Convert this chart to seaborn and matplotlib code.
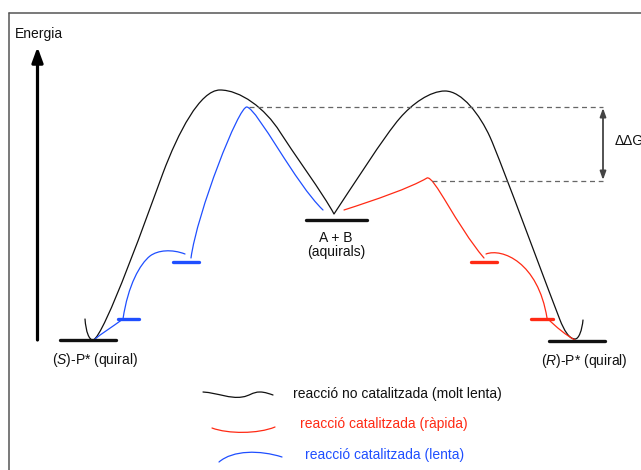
import numpy as np
import pandas as pd
import matplotlib
matplotlib.use("Agg")
import matplotlib.pyplot as plt
from matplotlib.path import Path
from matplotlib.patches import PathPatch
import seaborn as sns

# ---------------- data (diagram coordinates, y grows downward) ----------------
level_names = ["S", "blue1", "blue2", "AB", "red1", "red2", "R"]
level_x0 = [60, 173, 118, 306, 471, 531, 549]
level_x1 = [116, 199, 139, 367, 497, 553, 605]
level_y = [340, 262, 319, 220, 262, 319, 341]
level_series = ["none", "slow", "slow", "none", "fast", "fast", "none"]

# Bezier control points: start, then (c1, c2, end) triples
black_curve = [(85, 319),
               (86, 332), (89, 340), (93, 340),
               (104, 338), (150, 208), (163, 173),
               (178, 133), (200, 90), (220, 90),
               (240, 90), (265, 108), (280, 132),
               (292, 151), (324, 195), (334, 214),
               (350, 190), (385, 135), (400, 118),
               (412, 104), (430, 91), (445, 91),
               (462, 91), (480, 115), (490, 137),
               (500, 159), (552, 300), (560, 320),
               (564, 330), (569, 339), (575, 339),
               (579, 339), (582, 330), (583, 320)]
blue_curve_a = [(323, 210),
                (295, 183), (258, 110), (247, 107),
                (239, 105), (197, 213), (191, 258)]
blue_curve_b = [(185, 254),
                (172, 249), (158, 250), (150, 256),
                (140, 264), (128, 285), (123, 319),
                (112, 327), (101, 334), (95, 339)]
red_curve_a = [(344, 210),
               (375, 200), (410, 188), (427, 178),
               (434, 175), (456, 225), (484, 258)]
red_curve_b = [(486, 254),
               (502, 248), (538, 262), (547, 318),
               (556, 327), (567, 336), (575, 340)]

legend_black = [(203, 392),
                (218, 393), (230, 399), (242, 397),
                (250, 396), (252, 392), (260, 392),
                (265, 392), (270, 394), (273, 395)]
legend_red = [(212, 428),
              (228, 434), (258, 434), (275, 427)]
legend_blue = [(219, 462),
               (233, 450), (260, 450), (282, 457)]

legend_labels = ["reacció no catalitzada (molt lenta)",
                 "reacció catalitzada (ràpida)",
                 "reacció catalitzada (lenta)"]

ts_fast_y = 181   # catalysed fast TS
ts_slow_y = 107   # catalysed slow TS

# ---------------- style ----------------
sns.set_theme(style="white")
plt.rcParams["font.family"] = ["Liberation Sans", "DejaVu Sans"]
plt.rcParams["mathtext.fontset"] = "custom"
plt.rcParams["mathtext.rm"] = "Liberation Sans"
plt.rcParams["mathtext.it"] = "Liberation Sans:italic"

BLACK = "#111111"
RED = "#ff2a14"
BLUE = "#1f4fff"
colors = {"none": BLACK, "fast": RED, "slow": BLUE}

fig = plt.figure(figsize=(6.41, 4.70), dpi=100)
ax = fig.add_axes([0, 0, 1, 1])

# energy levels via seaborn
rows = []
for n, x0, x1, y, s in zip(level_names, level_x0, level_x1, level_y, level_series):
    rows.append({"x": x0, "y": y, "lvl": n, "series": s})
    rows.append({"x": x1, "y": y, "lvl": n, "series": s})
df = pd.DataFrame(rows)
sns.lineplot(data=df, x="x", y="y", units="lvl", hue="series", palette=colors,
             estimator=None, sort=False, lw=2.4, legend=False, ax=ax)
ax.set_xlim(0, 641)
ax.set_ylim(470, 0)
ax.axis("off")

# frame
ax.plot([9, 9], [13, 470], color="#555555", lw=1.1)
ax.plot([9, 641], [13, 13], color="#555555", lw=1.1)


def bezier(points, color, lw=0.9):
    codes = [Path.MOVETO] + [Path.CURVE4] * (len(points) - 1)
    ax.add_patch(PathPatch(Path(points, codes), fill=False, edgecolor=color,
                           lw=lw, capstyle="round", joinstyle="round"))


bezier(black_curve, BLACK)
bezier(blue_curve_a, BLUE)
bezier(blue_curve_b, BLUE)
bezier(red_curve_a, RED)
bezier(red_curve_b, RED)
bezier(legend_black, BLACK)
bezier(legend_red, RED)
bezier(legend_blue, BLUE)

# dashed reference lines
ax.plot([249, 603], [ts_slow_y, ts_slow_y], color="#666666", lw=0.9, ls=(0, (4, 3)))
ax.plot([432, 603], [ts_fast_y, ts_fast_y], color="#666666", lw=0.9, ls=(0, (4, 3)))
ax.annotate("", xy=(603, ts_slow_y + 1), xytext=(603, ts_fast_y - 1),
            arrowprops=dict(arrowstyle="<|-|>,head_length=0.5,head_width=0.18",
                            mutation_scale=10, lw=1.3, color="#444444",
                            shrinkA=0, shrinkB=0))
ax.text(615, 141, "ΔΔG", fontsize=10, va="center", ha="left", color=BLACK)

# energy axis arrow
ax.annotate("", xy=(37.5, 47), xytext=(37.5, 340),
            arrowprops=dict(arrowstyle="-|>,head_length=0.6,head_width=0.22",
                            mutation_scale=15, lw=2.3, color="black",
                            shrinkA=0, shrinkB=0))
ax.text(15, 38, "Energia", fontsize=10, va="baseline", ha="left", color=BLACK)

# labels
ax.text(336, 242, "A + B", fontsize=10, va="baseline", ha="center", color=BLACK)
ax.text(336, 256, "(aquirals)", fontsize=10, va="baseline", ha="center", color=BLACK)
ax.text(52, 364, "($\\mathit{S}$)-P* (quiral)", fontsize=10, va="baseline", ha="left", color=BLACK)
ax.text(541, 365, "($\\mathit{R}$)-P* (quiral)", fontsize=10, va="baseline", ha="left", color=BLACK)

# legend texts
ax.text(293, 394, legend_labels[0], fontsize=10, va="center", ha="left", color=BLACK)
ax.text(300, 424, legend_labels[1], fontsize=10, va="center", ha="left", color=RED)
ax.text(305, 455, legend_labels[2], fontsize=10, va="center", ha="left", color=BLUE)

fig.savefig("out.png", dpi=100)
